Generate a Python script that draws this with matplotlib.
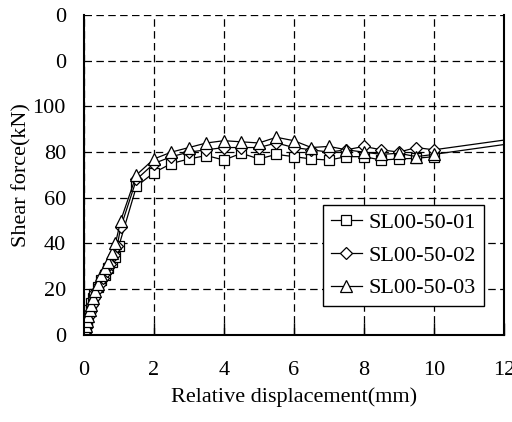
# shear force vs relative displacement, three specimens
import numpy as np
import matplotlib
matplotlib.use('Agg')
from matplotlib import pyplot as plt

# SL00-50-01 (squares)
x1 = [0, 0.02, 0.05, 0.08, 0.1, 0.12, 0.15, 0.2, 0.25, 0.3, 0.4, 0.5, 0.6, 0.7, 0.8, 0.9, 1.0,
      1.5, 2.0, 2.5, 3.0, 3.5, 4.0, 4.5, 5.0, 5.5, 6.0, 6.5, 7.0, 7.5, 8.0, 8.5, 9.0, 9.5, 10.0]
y1 = [0, 1, 3, 5, 7, 9, 11, 14, 16, 18, 21, 24, 26, 29, 32, 34, 39,
      65, 71, 75, 77, 78.5, 76.5, 79.5, 77, 79, 78, 77, 76.5, 78, 78, 76.5, 77, 77.3, 78]

# SL00-50-02 (diamonds)
x2 = [0, 0.03, 0.06, 0.1, 0.13, 0.17, 0.22, 0.28, 0.35, 0.45, 0.55, 0.65, 0.75, 0.85, 0.95, 1.05,
      1.5, 2.0, 2.5, 3.0, 3.5, 4.0, 4.5, 5.0, 5.5, 6.0, 6.5, 7.0, 7.5, 8.0, 8.5, 9.0, 9.5, 10.0, 14.0]
y2 = [0, 2, 4, 6, 8, 10, 13, 16, 19, 22, 25, 28, 31, 35, 39, 47,
      68, 75, 78, 80, 81, 82, 82, 82, 84, 82, 81, 80, 81, 82.5, 81, 80, 82, 81, 89.5]

# SL00-50-03 (triangles)
x3 = [0, 0.02, 0.05, 0.08, 0.12, 0.16, 0.2, 0.26, 0.32, 0.4, 0.5, 0.6, 0.7, 0.8, 0.9, 1.05,
      1.5, 2.0, 2.5, 3.0, 3.5, 4.0, 4.5, 5.0, 5.5, 6.0, 6.5, 7.0, 7.5, 8.0, 8.5, 9.0, 9.5, 10.0, 14.0]
y3 = [0, 2, 4, 6, 8, 11, 13, 16, 19, 22, 26, 29, 32, 36, 40, 50,
      70, 77, 80, 82, 84, 85, 84.5, 84, 86.5, 85, 82, 82.5, 81, 80, 79, 79.5, 78, 79, 87.6]

yticks = [0, 20, 40, 60, 80, 100, 120, 140]
ytick_labels = ['0', '20', '40', '60', '80', '100', '0', '0']
xticks = [0, 2, 4, 6, 8, 10, 12]

plt.rcParams['font.family'] = ['Liberation Serif', 'DejaVu Serif']
plt.rcParams['font.size'] = 16

fig = plt.figure(figsize=(5.12, 4.22), dpi=100)
ax = fig.add_axes([0.164, 0.207, 0.820, 0.757])

mk = dict(color='black', lw=0.9, mfc='white', mec='black', mew=0.9)
ax.plot(x1, y1, marker='s', ms=7.5, label='SL00-50-01', **mk)
ax.plot(x2, y2, marker='D', ms=6.5, label='SL00-50-02', **mk)
ax.plot(x3, y3, marker='^', ms=8.5, label='SL00-50-03', **mk)

ax.set_xlim(0, 12)
ax.set_ylim(0, 140)
ax.set_xticks(xticks)
ax.set_yticks(yticks)
ax.set_yticklabels(ytick_labels)
ax.grid(True, color='black', lw=0.9, linestyle=(0, (6, 3.5)))
ax.set_axisbelow(True)

ax.spines['top'].set_visible(False)
for s in ['left', 'bottom', 'right']:
    ax.spines[s].set_linewidth(1.5)
ax.tick_params(axis='x', direction='in', length=9, width=1, pad=19)
ax.tick_params(axis='y', length=0, pad=13)

ax.set_xlabel('Relative displacement(mm)', labelpad=5)
ax.set_ylabel('Shear force(kN)', labelpad=1)

leg = ax.legend(loc='lower right', bbox_to_anchor=(0.952, 0.089), fancybox=False,
                edgecolor='black', framealpha=1, handlelength=1.4, handletextpad=0.3,
                borderpad=0.35, labelspacing=0.55, borderaxespad=0)
leg.get_frame().set_linewidth(1)

plt.savefig('out.png', dpi=100)
